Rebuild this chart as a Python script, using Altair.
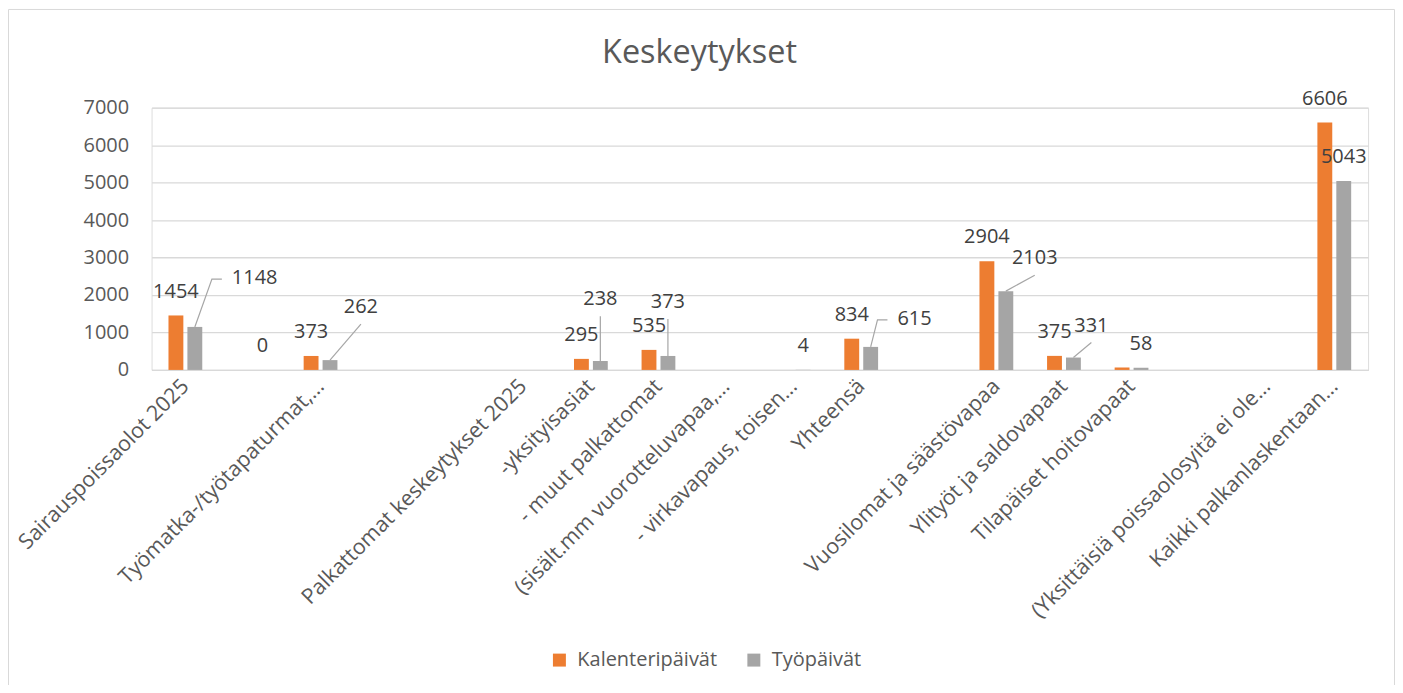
import json
import altair as alt
import pandas as pd

# ---------------- data ----------------
categories = [
    "Sairauspoissaolot 2025", "", "Työmatka-/työtapaturmat,…", "", "",
    "Palkattomat keskeytykset 2025", "-yksityisasiat", "- muut palkattomat",
    "(sisält.mm vuorotteluvapaa,…", "- virkavapaus, toisen…", "Yhteensä", "",
    "Vuosilomat ja säästövapaa", "Ylityöt ja saldovapaat", "Tilapäiset hoitovapaat", "",
    "(Yksittäisiä poissaolosyitä ei ole…", "Kaikki palkanlaskentaan…",
]
kalenteripaivat = [1454, None, 373, None, None, None, 295, 535, None, None,
                   834, None, 2904, 375, 65, None, None, 6606]
tyopaivat = [1148, 0, 262, None, None, None, 238, 373, None, 4,
             615, None, 2103, 331, 58, None, None, 5043]
series_names = ["Kalenteripäivät", "Työpäivät"]
y_ticks = [0, 1000, 2000, 3000, 4000, 5000, 6000, 7000]

# ---------------- style / layout ----------------
colors = ["#ED7D31", "#A5A5A5"]
W, H = 1220, 263
YMAX = 7000
PXC = W / len(categories)       # pixels per category
UY = YMAX / H                   # value units per pixel
FONT = "Open Sans"
LABEL_FS = 20
hidden_labels = {(14, "Kalenteripäivät")}
# labels dragged away from their bars in the original (pixel nudges), with leader lines
gray_nudges = {0: (60, -49, "side"), 2: (31, -53, "below"), 6: (0, -62, "below"),
               7: (0, -54, "below"), 10: (44, -28, "side"), 12: (29, -33, "below"),
               13: (18, -32, "below")}

bar_rows, label_rows, leader_rows = [], [], []
for i in range(len(categories)):
    for s, vals, off in ((series_names[0], kalenteripaivat, -0.14),
                         (series_names[1], tyopaivat, 0.14)):
        v = vals[i]
        if v is None:
            continue
        xc = i + off
        bar_rows.append(dict(idx=i, series=s, value=v, x0=xc - 0.11, x1=xc + 0.11))
        if (i, s) in hidden_labels:
            continue
        dx, dy, kind = 0, -24, None
        if s == series_names[1] and i in gray_nudges:
            dx, dy, kind = gray_nudges[i]
        lx, ly = xc + dx / PXC, v - dy * UY
        label_rows.append(dict(text=str(v), lx=lx, ly=ly))
        if kind == "below":
            pts = [(0, 0), (dx, dy + 17)]
        elif kind == "side":
            hw = 0.286 * LABEL_FS * len(str(v))
            pts = [(0, 0), (dx - hw - 20, dy + 1), (dx - hw - 10, dy + 1)]
        else:
            pts = []
        for k, (px, py) in enumerate(pts):
            leader_rows.append(dict(lid=f"{i}", ord=k, lx=xc + px / PXC, ly=v - py * UY))

bars_df = pd.DataFrame(bar_rows)
labels_df = pd.DataFrame(label_rows)
leaders_df = pd.DataFrame(leader_rows)
one_df = pd.DataFrame({"t": ["Keskeytykset"]})

x_scale = alt.Scale(domain=[-0.5, len(categories) - 0.5], nice=False, zero=False)
y_scale = alt.Scale(domain=[0, YMAX], nice=False)
label_expr = json.dumps(categories, ensure_ascii=False) + "[datum.value]"

x_axis = alt.Axis(values=list(range(len(categories))), labelExpr=label_expr, title=None,
                  grid=False, ticks=False, labelAngle=-45, labelAlign="right",
                  labelBaseline="middle", labelFontSize=21.5, labelColor="#595959",
                  labelFont=FONT, labelPadding=13, domainColor="#D9D9D9", domainWidth=1.3,
                  labelOverlap=False, labelFlush=False, labelBound=False, labelLimit=1000)
y_axis = alt.Axis(values=y_ticks, format="d", title=None, ticks=False, domain=False,
                  labelFontSize=20, labelColor="#595959", labelFont=FONT,
                  labelPadding=23, gridColor="#D9D9D9", gridWidth=1.3)

frame = alt.Chart(one_df).mark_rect(fill="transparent", stroke="#D9D9D9", strokeWidth=1).encode(
    x=alt.value(-143.5), x2=alt.value(W + 26.5), y=alt.value(-98.5), y2=alt.value(H + 340)
)

bars = alt.Chart(bars_df).mark_rect().encode(
    x=alt.X("x0:Q", scale=x_scale, axis=x_axis),
    x2="x1:Q",
    y=alt.Y("value:Q", scale=y_scale, axis=y_axis),
    y2=alt.datum(0),
    color=alt.Color("series:N", scale=alt.Scale(domain=series_names, range=colors),
                    legend=alt.Legend(title=None, orient="none", legendX=399, legendY=544,
                                      direction="horizontal", symbolType="square",
                                      symbolSize=169, symbolStrokeWidth=0,
                                      labelFontSize=20, labelColor="#595959", labelFont=FONT,
                                      columnPadding=26, labelOffset=8, padding=0)),
)

leaders = alt.Chart(leaders_df).mark_line(color="#A6A6A6", strokeWidth=1.2).encode(
    x=alt.X("lx:Q", scale=x_scale, axis=x_axis),
    y=alt.Y("ly:Q", scale=y_scale, axis=y_axis),
    detail="lid:N",
    order="ord:Q",
)

labels = alt.Chart(labels_df).mark_text(fontSize=LABEL_FS, color="#404040", font=FONT,
                                        baseline="middle", align="center").encode(
    x=alt.X("lx:Q", scale=x_scale, axis=x_axis),
    y=alt.Y("ly:Q", scale=y_scale, axis=y_axis),
    text="text:N",
)

title = alt.Chart(one_df).mark_text(fontSize=32.5, color="#595959", font=FONT,
                                    baseline="alphabetic", align="center").encode(
    x=alt.value(549.5), y=alt.value(-45), text="t:N"
)

chart = alt.layer(frame, bars, leaders, labels, title).properties(
    width=W, height=H,
    padding={"left": 144, "top": 99, "right": 27, "bottom": 315},
    autosize=alt.AutoSizeParams(type="none"),
).configure_view(strokeWidth=0).configure(font=FONT)

chart.save("out.html", embed_options={"renderer": "svg", "actions": False})
